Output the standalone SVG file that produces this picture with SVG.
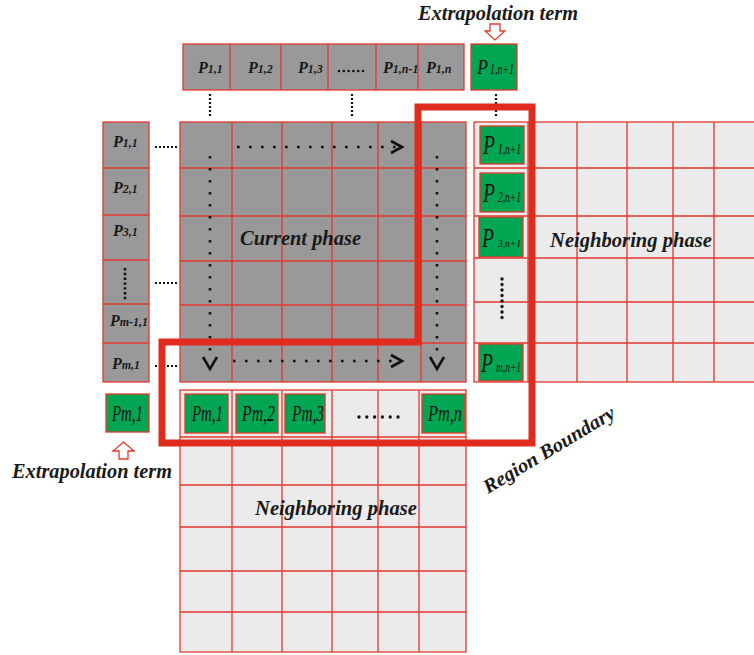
<svg xmlns="http://www.w3.org/2000/svg" width="754" height="655" viewBox="0 0 754 655">
<style>
.gray{fill:#999999;stroke:#e2392e;stroke-width:1.3}
.light{fill:#ebebeb;stroke:#e2392e;stroke-width:1.3}
.gl{stroke:#e2392e;stroke-width:1.3;fill:none}
.green{fill:#00a651;stroke:#e2392e;stroke-width:1.3}
.lb{font-family:"Liberation Serif","Times New Roman",serif;font-weight:bold;font-style:italic;fill:#1a1a1a}
.gt{font-family:"Liberation Serif","Times New Roman",serif;font-style:italic;fill:#111}
.title{font-family:"Liberation Serif","Times New Roman",serif;font-weight:bold;font-style:italic;fill:#1a1a1a;font-size:20px}
.dotsq{stroke:#111;stroke-width:2.6;fill:none;stroke-dasharray:2.6 9.4}
.dotsm{stroke:#111;stroke-width:2.2;fill:none;stroke-dasharray:2 2}
.dotrd{stroke:#111;stroke-width:3.4;fill:none;stroke-dasharray:0 6;stroke-linecap:round}
.head{stroke:#111;stroke-width:2.6;fill:none;stroke-linejoin:miter}
.harrow{fill:#fff;stroke:#e2392e;stroke-width:1.3}
</style>

<g id="top-row">
  <rect class="gray" x="183" y="44" width="281" height="46"/>
  <path class="gl" d="M230,44V90M281,44V90M328,44V90M376,44V90M418,44V90"/>
  <text class="lb" x="198" y="73"><tspan font-size="16">P</tspan><tspan font-size="12">1,1</tspan></text>
  <text class="lb" x="248" y="73"><tspan font-size="16">P</tspan><tspan font-size="12">1,2</tspan></text>
  <text class="lb" x="298" y="73"><tspan font-size="16">P</tspan><tspan font-size="12">1,3</tspan></text>
  <path class="dotrd" style="stroke-width:2.6;stroke-dasharray:0 4.8" d="M339,71H364"/>
  <text class="lb" x="383" y="73"><tspan font-size="16">P</tspan><tspan font-size="12">1,n-1</tspan></text>
  <text class="lb" x="426" y="73"><tspan font-size="16">P</tspan><tspan font-size="12">1,n</tspan></text>
</g>

<g id="extrapolation-top">
  <text class="title" x="418" y="20" textLength="160" lengthAdjust="spacingAndGlyphs">Extrapolation term</text>
  <polygon class="harrow" points="490,24 500,24 500,31 505,31 495,40 485,31 490,31"/>
  <rect class="green" x="471" y="44" width="46" height="46"/>
  <text class="gt" x="477" y="74" font-size="21" textLength="11" lengthAdjust="spacingAndGlyphs">P</text>
  <text class="gt" x="490" y="74" font-size="14" textLength="24" lengthAdjust="spacingAndGlyphs">1,n+1</text>
</g>

<g id="left-column">
  <rect class="gray" x="103" y="122" width="46" height="260"/>
  <path class="gl" d="M103,168H149M103,215H149M103,260H149M103,304H149M103,343H149"/>
  <text class="lb" x="113" y="147"><tspan font-size="16">P</tspan><tspan font-size="12">1,1</tspan></text>
  <text class="lb" x="113" y="193"><tspan font-size="16">P</tspan><tspan font-size="12">2,1</tspan></text>
  <text class="lb" x="113" y="236"><tspan font-size="16">P</tspan><tspan font-size="12">3,1</tspan></text>
  <path class="dotsm" style="stroke-width:2.6;stroke-dasharray:2.4 2.4" d="M125,268V301"/>
  <text class="lb" x="110" y="326"><tspan font-size="16">P</tspan><tspan font-size="12">m-1,1</tspan></text>
  <text class="lb" x="112" y="369"><tspan font-size="16">P</tspan><tspan font-size="12">m,1</tspan></text>
</g>

<g id="extrapolation-bottom">
  <rect class="green" x="106" y="394" width="43" height="38"/>
  <text class="gt" x="112" y="421" font-size="23" textLength="31" lengthAdjust="spacingAndGlyphs">Pm,1</text>
  <polygon class="harrow" points="123.5,442 134,451 128,451 128,459 119,459 119,451 113,451"/>
  <text class="title" x="12" y="478" textLength="160" lengthAdjust="spacingAndGlyphs">Extrapolation term</text>
</g>

<g id="current-phase">
  <rect class="gray" x="180" y="122" width="286" height="260"/>
  <path class="gl" d="M232,122V382M282,122V382M332,122V382M378,122V382M421,122V382M180,168H466M180,216H466M180,261H466M180,305H466M180,343H466"/>
  <text class="title" x="240" y="245" textLength="121" lengthAdjust="spacingAndGlyphs">Current phase</text>
</g>

<g id="neighboring-right">
  <rect class="light" x="474" y="122" width="290" height="260"/>
  <path class="gl" d="M528,122V382M577,122V382M627,122V382M673,122V382M714,122V382M474,168H754M474,216H754M474,258H754M474,302H754M474,343H754"/>
  <rect class="green" x="480" y="126" width="44" height="38"/>
  <text class="gt" x="483" y="154" font-size="28" textLength="12" lengthAdjust="spacingAndGlyphs">P</text>
  <text class="gt" x="498" y="154" font-size="14" textLength="23" lengthAdjust="spacingAndGlyphs">1,n+1</text>
  <rect class="green" x="480" y="173" width="44" height="39"/>
  <text class="gt" x="483" y="202" font-size="28" textLength="12" lengthAdjust="spacingAndGlyphs">P</text>
  <text class="gt" x="498" y="202" font-size="14" textLength="23" lengthAdjust="spacingAndGlyphs">2,n+1</text>
  <rect class="green" x="479" y="217" width="44" height="40"/>
  <text class="gt" x="482" y="247" font-size="28" textLength="12" lengthAdjust="spacingAndGlyphs">P</text>
  <text class="gt" x="498" y="247" font-size="11" textLength="23" lengthAdjust="spacingAndGlyphs">3,n+1</text>
  <path class="dotrd" style="stroke-dasharray:0 5.5" d="M502,279V318"/>
  <rect class="green" x="479" y="344" width="44" height="37"/>
  <text class="gt" x="481" y="372" font-size="28" textLength="12" lengthAdjust="spacingAndGlyphs">P</text>
  <text class="gt" x="496" y="372" font-size="14" textLength="25" lengthAdjust="spacingAndGlyphs">m,n+1</text>
  <text class="title" x="550" y="247" textLength="162" lengthAdjust="spacingAndGlyphs">Neighboring phase</text>
</g>

<g id="neighboring-bottom">
  <rect class="light" x="180" y="390" width="286" height="262"/>
  <path class="gl" d="M232,390V652M282,390V652M332,390V652M378,390V652M419,390V652M180,437H466M180,485H466M180,527H466M180,571H466M180,612H466"/>
  <rect class="green" x="185" y="394" width="43" height="39"/>
  <text class="gt" x="192" y="421" font-size="23" textLength="31" lengthAdjust="spacingAndGlyphs">Pm,1</text>
  <rect class="green" x="236" y="394" width="42" height="39"/>
  <text class="gt" x="242" y="421" font-size="23" textLength="33" lengthAdjust="spacingAndGlyphs">Pm,2</text>
  <rect class="green" x="285" y="394" width="40" height="39"/>
  <text class="gt" x="292" y="421" font-size="23" textLength="32" lengthAdjust="spacingAndGlyphs">Pm,3</text>
  <path class="dotrd" style="stroke-dasharray:0 7.8" d="M359,417H399"/>
  <rect class="green" x="422" y="394" width="43" height="39"/>
  <text class="gt" x="428" y="421" font-size="23" textLength="34" lengthAdjust="spacingAndGlyphs">Pm,n</text>
  <text class="title" x="255" y="515" textLength="162" lengthAdjust="spacingAndGlyphs">Neighboring phase</text>
</g>

<g id="connectors">
  <path class="dotsm" d="M210,94V116M352,94V116M496,94V116"/>
  <path class="dotsm" d="M155,147H178M155,283H178M155,366H178"/>
  <path class="dotsq" d="M237,147H398"/>
  <polyline class="head" points="391,141 402,147 391,153"/>
  <path class="dotsq" d="M210,156V352"/>
  <polyline class="head" points="203,357 210,369 217,357"/>
  <path class="dotsq" d="M233,361H398"/>
  <polyline class="head" points="391,355 402,361 391,367"/>
  <path class="dotsq" d="M437,156V352"/>
  <polyline class="head" points="430,357 437,369 444,357"/>
</g>

<g id="region-boundary">
  <polygon points="418,107 532,107 532,443 162,443 162,342 418,342" fill="none" stroke="#e02b1f" stroke-width="7"/>
  <text class="title" x="488" y="494" transform="rotate(-31 488 494)" textLength="150" lengthAdjust="spacingAndGlyphs">Region Boundary</text>
</g>
</svg>
